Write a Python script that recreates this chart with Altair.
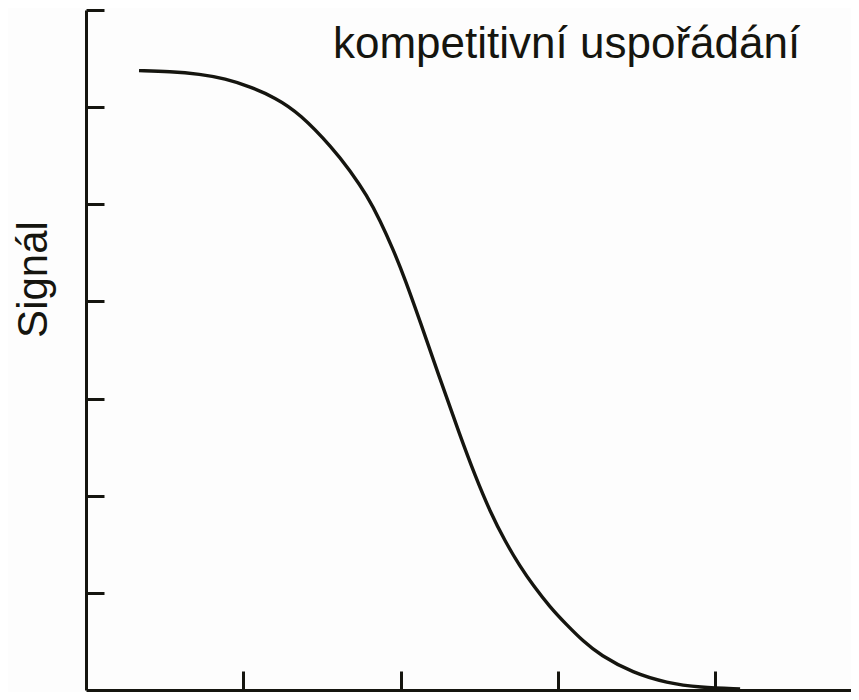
import altair as alt
import pandas as pd

# Curve (x in tick units, y in tick units)
conc = [0.337, 0.534, 0.725, 0.884, 1.043, 1.202, 1.360, 1.570, 1.678, 1.786,
        1.869, 1.952, 2.028, 2.123, 2.250, 2.378, 2.473, 2.568, 2.664, 2.759,
        2.842, 2.950, 3.058, 3.160, 3.268, 3.477, 3.693, 3.902, 4.158]
signal = [6.376, 6.368, 6.340, 6.294, 6.211, 6.099, 5.934, 5.575, 5.349, 5.092,
          4.836, 4.538, 4.230, 3.799, 3.203, 2.618, 2.207, 1.838, 1.530, 1.273,
          1.078, 0.852, 0.667, 0.503, 0.359, 0.175, 0.072, 0.026, 0.010]

x_ticks = [1, 2, 3, 4]
y_ticks = [1, 2, 3, 4, 5, 6, 7]

title_text = "kompetitivní uspořádání"
y_title = "Signál"

df = pd.DataFrame({"c": conc, "s": signal})

W = 765
H = 680
ink = "#15150f"

curve = alt.Chart(df).mark_line(
    interpolate="basis", color=ink, strokeWidth=3.4
).encode(
    x=alt.X("c:Q",
            scale=alt.Scale(domain=[0, 4.863], nice=False, zero=False),
            axis=alt.Axis(orient="top", offset=-H, values=x_ticks, labels=False,
                          title=None, grid=False, tickSize=19, tickWidth=3,
                          tickColor=ink, domainColor=ink, domainWidth=3)),
    y=alt.Y("s:Q",
            scale=alt.Scale(domain=[0, 7], nice=False, zero=False),
            axis=alt.Axis(orient="right", offset=-W, values=y_ticks, labels=False,
                          title=y_title, titleAngle=-90, titleX=-40, titleY=269,
                          titleAlign="center", titleBaseline="alphabetic",
                          titleFont="Liberation Sans", titleFontSize=42,
                          titleFontWeight="normal", titleColor=ink,
                          grid=False, tickSize=18, tickWidth=3,
                          tickColor=ink, domainColor=ink, domainWidth=3)),
)

label = alt.Chart(pd.DataFrame({"t": [title_text]})).mark_text(
    align="left", baseline="alphabetic", font="Liberation Sans",
    fontSize=44, color=ink
).encode(
    text="t:N",
    x=alt.value(247),
    y=alt.value(48),
)

chart = alt.layer(curve, label).properties(
    width=W,
    height=H,
    autosize=alt.AutoSizeParams(type="none"),
    padding={"left": 78, "top": 2, "right": 0, "bottom": 2},
    background="#fdfdfd",
).configure_view(stroke=None)

chart.save("out.html", embed_options={"renderer": "svg", "actions": False})
